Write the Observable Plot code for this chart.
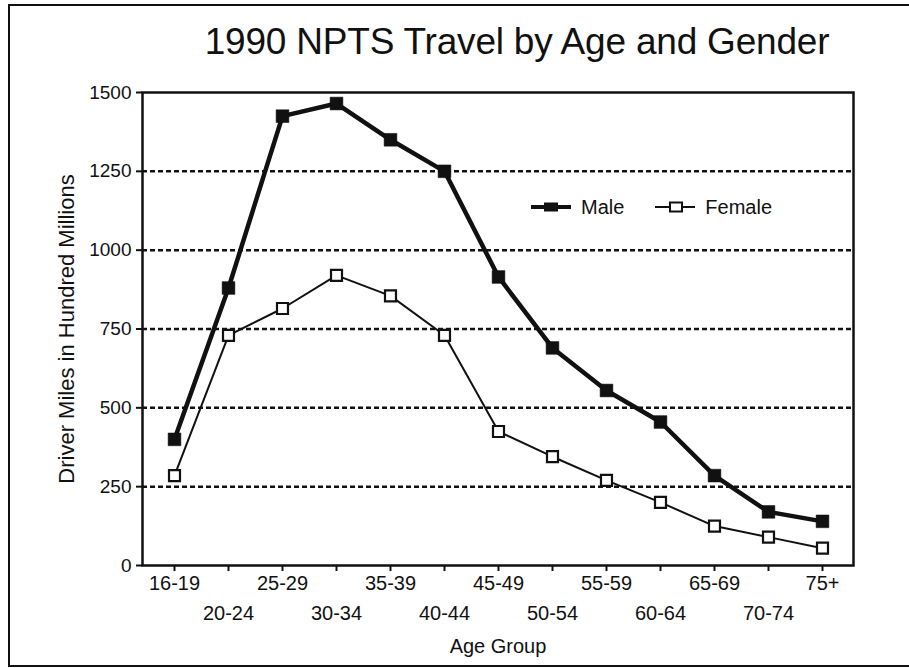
<!DOCTYPE html>
<html><head><meta charset="utf-8">
<script src="https://cdn.jsdelivr.net/npm/d3@7"></script>
<script src="https://cdn.jsdelivr.net/npm/@observablehq/plot@0.6"></script>
<style>
body{margin:0;background:#fff;}
#wrap{position:relative;width:909px;height:668px;overflow:hidden;font-family:"Liberation Sans",Arial,sans-serif;color:#111;}
#chart{position:absolute;left:0;top:0;}
#border{position:absolute;left:8px;top:4px;width:901px;height:663px;border-left:2.5px solid #111;border-top:2.5px solid #111;border-bottom:2.5px solid #111;box-sizing:border-box;pointer-events:none;}
#title{position:absolute;left:517px;top:23px;transform:translateX(-50%);font-size:37px;line-height:37px;white-space:nowrap;letter-spacing:-0.2px;}
#legend{position:absolute;left:530px;top:195px;display:flex;align-items:center;font-size:20px;line-height:24px;}
#legend .item{display:flex;align-items:center;margin-right:30px;}
#legend svg{margin-right:9px;}
</style></head>
<body>
<div id="wrap">
  <div id="chart"></div>
  <div id="title">1990 NPTS Travel by Age and Gender</div>
  <div id="legend"></div>
  <div id="border"></div>
</div>
<script>
const ageGroups = ["16-19","20-24","25-29","30-34","35-39","40-44","45-49","50-54","55-59","60-64","65-69","70-74","75+"];
const maleMiles = [400,880,1425,1465,1350,1250,915,690,555,455,285,170,140];
const femaleMiles = [285,730,815,920,855,730,425,345,270,200,125,90,55];
const yTicks = [0,250,500,750,1000,1250,1500];
const gridValues = [250,500,750,1000,1250];
const seriesNames = ["Male","Female"];

const male = ageGroups.map((a,i)=>({age:a, miles:maleMiles[i]}));
const female = ageGroups.map((a,i)=>({age:a, miles:femaleMiles[i]}));
const evenAges = ageGroups.filter((d,i)=>i%2===0);
const oddAges = ageGroups.filter((d,i)=>i%2===1);

const chart = Plot.plot({
  width: 909,
  height: 668,
  marginLeft: 142,
  marginRight: 56,
  marginTop: 92,
  marginBottom: 103,
  style: {fontFamily: '"Liberation Sans", Arial, sans-serif', fontSize: "19px", color: "#111", background: "transparent", overflow: "visible"},
  x: {type: "point", domain: ageGroups, padding: 0.5},
  y: {domain: [0, 1500]},
  marks: [
    Plot.ruleY(gridValues, {stroke: "#111", strokeWidth: 2.5, strokeDasharray: "5,3"}),
    Plot.axisY(yTicks, {tickSize: 6, tickPadding: 5, strokeWidth: 2, fontSize: 19, tickFormat: d3.format("d"), label: null}),
    Plot.axisY([], {fontSize: 22, label: "Driver Miles in Hundred Millions", labelAnchor: "center", labelOffset: 84, labelArrow: false}),
    Plot.axisX(evenAges, {tickSize: 6, tickPadding: 4, strokeWidth: 2, fontSize: 20, label: null}),
    Plot.axisX(oddAges, {tickSize: 6, tickPadding: 34, strokeWidth: 2, fontSize: 20, label: null}),
    Plot.axisX([], {fontSize: 20, label: "Age Group", labelAnchor: "center", labelOffset: 87, labelArrow: false}),
    Plot.frame({stroke: "#111", strokeWidth: 2.5}),
    Plot.line(female, {x: "age", y: "miles", stroke: "#111", strokeWidth: 2}),
    Plot.line(male, {x: "age", y: "miles", stroke: "#111", strokeWidth: 4.5}),
    Plot.dot(female, {x: "age", y: "miles", symbol: "square", r: 6.2, fill: "white", stroke: "#111", strokeWidth: 2.2}),
    Plot.dot(male, {x: "age", y: "miles", symbol: "square", r: 7.2, fill: "#111", stroke: "#111", strokeWidth: 0.5})
  ]
});
document.getElementById("chart").appendChild(chart);

// legend
const legend = document.getElementById("legend");
const swatches = {
  Male: '<svg width="42" height="14"><line x1="1" y1="7" x2="41" y2="7" stroke="#111" stroke-width="4"/><rect x="14" y="2.5" width="14" height="9" fill="#111"/></svg>',
  Female: '<svg width="42" height="14"><line x1="1" y1="7" x2="41" y2="7" stroke="#111" stroke-width="2"/><rect x="16" y="2.5" width="12" height="9" fill="white" stroke="#111" stroke-width="2"/></svg>'
};
seriesNames.forEach(n => {
  const it = document.createElement("div");
  it.className = "item";
  it.innerHTML = swatches[n] + '<span>' + n + '</span>';
  legend.appendChild(it);
});
</script>
</body></html>
